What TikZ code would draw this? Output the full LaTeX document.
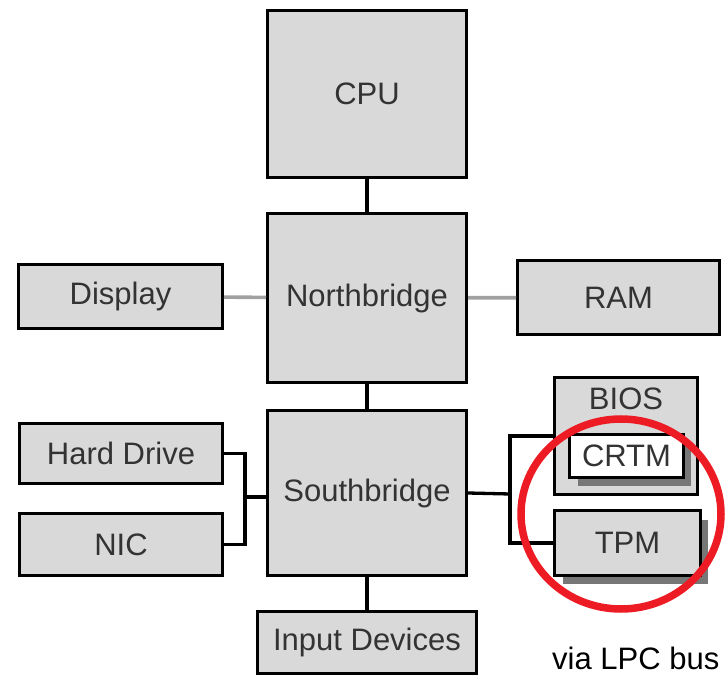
\documentclass[tikz,border=0pt]{standalone}
\usepackage{fontspec}
\setmainfont{Liberation Sans}
\usetikzlibrary{shadows}
\definecolor{boxgray}{HTML}{D9D9D9}
\definecolor{shadowgray}{HTML}{777777}
\definecolor{busgray}{HTML}{A0A0A0}
\definecolor{markred}{HTML}{ED1C24}
\begin{document}
\begin{tikzpicture}[x=1pt, y=-1pt, font=\fontsize{31}{36}\selectfont,
  box/.style={draw, line width=3.3pt, fill=boxgray, text=black!80, inner sep=0pt},
  shadowed/.style={drop shadow={shadow xshift=8pt, shadow yshift=-9pt, fill=shadowgray, opacity=1}},
  link/.style={line width=3.3pt},
  graylink/.style={line width=3.6pt, busgray}]
\useasboundingbox (0,0) rectangle (726,676);

\node[box, minimum width=198.7pt, minimum height=166.7pt] (CPU) at (367,94) {CPU};
\node[box, minimum width=198.7pt, minimum height=168.7pt] (NB) at (367,298) {Northbridge};
\node[box, minimum width=198.7pt, minimum height=164.7pt] (SB) at (367,493) {Southbridge};
\node[box, minimum width=218.7pt, minimum height=61.7pt] (IN) at (367,642.5) {Input Devices};
\node[box, minimum width=203.7pt, minimum height=63.7pt] (DISP) at (120.5,296.5) {Display};
\node[box, minimum width=201.7pt, minimum height=73.7pt] (RAM) at (618.5,297.5) {RAM};
\node[box, minimum width=202.7pt, minimum height=59.7pt] (HD) at (121,453.5) {Hard Drive};
\node[box, minimum width=202.7pt, minimum height=61.7pt] (NIC) at (121,544.5) {NIC};

% BIOS with CRTM inside, TPM below
\node[box, minimum width=142.7pt, minimum height=116.7pt,
  label={[anchor=north, yshift=-8pt, text=black!80]north:BIOS}] (BIOS) at (626,436) {};
\node[box, shadowed, fill=white, minimum width=113.7pt, minimum height=42.7pt] (CRTM) at (626.5,456) {CRTM};
\node[box, shadowed, minimum width=145.7pt, minimum height=64.7pt] (TPM) at (627.5,543) {TPM};

\coordinate (hub) at (245,497);
\coordinate (lpc) at (510,494);

\draw[link] (CPU) -- (NB);
\draw[link] (NB) -- (SB);
\draw[link] (SB) -- (IN);
\draw[graylink] (DISP) -- (NB);
\draw[graylink] (NB) -- (RAM);
\draw[link] (HD.east) -| (hub) |- (NIC.east);
\draw[link] (hub) -- (SB.west |- hub);
\draw[link] (SB.east) -- (lpc);
\draw[link] (BIOS.west) -| (lpc) |- (TPM.west);

% marking
\draw[markred, line width=7.5pt] (621,514) ellipse [x radius=100, y radius=95];
\node[anchor=base west, inner sep=0pt] (note) at (552,669) {via LPC bus};
\end{tikzpicture}
\end{document}
